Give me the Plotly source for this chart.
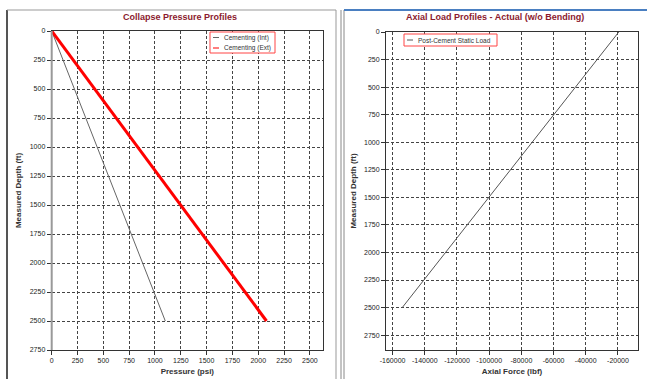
import plotly.graph_objects as go

# ---- data ----
int_pressure = [0, 1100]
int_depth = [0, 2500]
ext_pressure = [0, 2080]
ext_depth = [0, 2500]
axial_force = [-19500, -154000]
axial_depth = [0, 2500]

depth_ticks = list(range(0, 2751, 250))
pressure_ticks = list(range(0, 2501, 250))
force_ticks = list(range(-160000, -19999, 20000))
force_labels = [str(v) for v in force_ticks]

W, H = 647, 379
def px(x): return x / W
def py(y): return 1 - y / H

FONT = "Liberation Sans, Arial, sans-serif"
fig = go.Figure()
fig.add_trace(go.Scatter(x=int_pressure, y=int_depth, mode="lines", name="Cementing (Int)",
                         line=dict(color="#666666", width=1), xaxis="x", yaxis="y"))
fig.add_trace(go.Scatter(x=ext_pressure, y=ext_depth, mode="lines", name="Cementing (Ext)",
                         line=dict(color="#ff0000", width=3), xaxis="x", yaxis="y"))
fig.add_trace(go.Scatter(x=axial_force, y=axial_depth, mode="lines", name="Post-Cement Static Load",
                         line=dict(color="#555555", width=1), xaxis="x2", yaxis="y2"))

tickfont = dict(family=FONT, size=7, color="#222222")
titlefont = dict(family=FONT, size=8, color="#333333")
common = dict(showgrid=True, gridcolor="#444444", griddash="3px,2px", gridwidth=1,
              ticks="outside", ticklen=4, tickcolor="#333", tickfont=tickfont,
              showline=True, linecolor="#333333", linewidth=1, mirror=True, zeroline=False,
              automargin=False)

fig.update_layout(
    width=W, height=H, margin=dict(l=0, r=0, t=0, b=0),
    paper_bgcolor="white", plot_bgcolor="white",
    font=dict(family=FONT),
    showlegend=False,
    xaxis=dict(domain=[px(51.7), px(323)], range=[0, 2627], tickvals=pressure_ticks,
               title=dict(text="<b>Pressure (psi)</b>", font=titlefont, standoff=4),
               anchor="y", **common),
    yaxis=dict(domain=[py(350), py(31)], range=[2750, 0], tickvals=depth_ticks,
               title=dict(text="<b>Measured Depth (ft)</b>", font=titlefont, standoff=6),
               anchor="x", **common),
    xaxis2=dict(domain=[px(386), px(638)], range=[-164100, -7540], tickvals=force_ticks,
                ticktext=force_labels,
                title=dict(text="<b>Axial Force (lbf)</b>", font=titlefont, standoff=4),
                anchor="y2", **common),
    yaxis2=dict(domain=[py(350), py(32)], range=[2885, 0], tickvals=depth_ticks,
                title=dict(text="<b>Measured Depth (ft)</b>", font=titlefont, standoff=6),
                anchor="x2", **common),
)

def line(x0, y0, x1, y1, color, width):
    fig.add_shape(type="line", xref="paper", yref="paper", x0=px(x0), y0=py(y0), x1=px(x1), y1=py(y1),
                  line=dict(color=color, width=width))

def rect(x0, y0, x1, y1, color):
    fig.add_shape(type="rect", xref="paper", yref="paper", x0=px(x0), y0=py(y0), x1=px(x1), y1=py(y1),
                  line=dict(color=color, width=1), fillcolor="white", layer="above")

def text(t, x, y, size=7, color="#333333", xanchor="left"):
    fig.add_annotation(text=t, x=px(x), y=py(y), xref="paper", yref="paper", showarrow=False,
                       xanchor=xanchor, yanchor="middle", font=dict(family=FONT, size=size, color=color))

# Left y-axis gray thick line (as in reference)
line(51.7, 350, 51.7, 31, "#999999", 2)

# Legends (compact, drawn like the reference)
names_left = [fig.data[0].name, fig.data[1].name]
colors_left = [fig.data[0].line.color, fig.data[1].line.color]
rect(210, 32, 275, 53, "#ff4444")
for i, (n, c) in enumerate(zip(names_left, colors_left)):
    yy = 37.5 + i * 10.5
    line(213, yy, 219, yy, c, 1)
    text(n, 222, yy, size=6.5)
rect(404, 34, 497, 46, "#ff4444")
line(407, 40, 413, 40, fig.data[2].line.color, 1)
text(fig.data[2].name, 416, 40, size=6.5)

# Panel titles
text("<b>Collapse Pressure Profiles</b>", 180, 17, size=9, color="#8b1a2e", xanchor="center")
text("<b>Axial Load Profiles - Actual (w/o Bending)</b>", 495, 17, size=9, color="#8b1a2e", xanchor="center")

# Panel frames
line(7, 10, 7, 379, "#555555", 2)
line(7, 10, 336, 10, "#999999", 1)
line(336, 10, 336, 379, "#999999", 1)
line(341, 10, 341, 379, "#888888", 1)
line(344, 10, 344, 379, "#888888", 1)
line(344, 10, 647, 10, "#4a7fc1", 2)

fig.write_html("out.html", config={"displayModeBar": False},
               post_script="document.body.style.margin='0';document.body.style.overflow='hidden';")
